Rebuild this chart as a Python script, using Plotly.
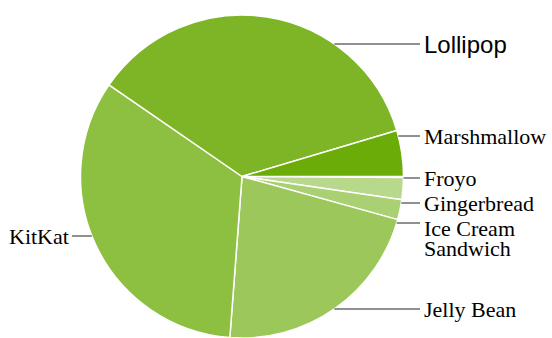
import math
import plotly.graph_objects as go

# ---- data ----
versions = ["Froyo", "Gingerbread", "Ice Cream Sandwich", "Jelly Bean", "KitKat", "Lollipop", "Marshmallow"]
shares = [0.1, 2.2, 2.0, 21.9, 33.4, 35.8, 4.6]
label_texts = ["Froyo", "Gingerbread", "Ice Cream<br>Sandwich", "Jelly Bean", "KitKat", "Lollipop", "Marshmallow"]

# ---- styles / layout ----
colors = ["#cfe6ad", "#b8d98b", "#a9d073", "#9cc75a", "#8dbf40", "#7db527", "#6bac08"]
W, H = 552, 338
CX, CY = 242, 176.5      # pie centre, px from top-left
R = 161.5                # pie radius in px
label_y = {"Froyo": 178, "Gingerbread": 203, "Ice Cream Sandwich": 223,
           "Jelly Bean": 309, "KitKat": 236, "Lollipop": 44, "Marshmallow": 136}
label_side = {"KitKat": "left"}
RIGHT_X = 420
LEFT_X = 72
SERIF = "Liberation Serif, Times New Roman, serif"
SANS = "Liberation Sans, Arial, sans-serif"

def px(x):
    return x / W

def py(y):
    return 1 - y / H

fig = go.Figure(go.Pie(
    labels=versions, values=shares, sort=False, direction="clockwise", rotation=90,
    marker=dict(colors=colors, line=dict(color="white", width=1.5)),
    textinfo="none", hoverinfo="label+percent", showlegend=False,
    domain=dict(x=[px(CX - R), px(CX + R)], y=[py(CY + R), py(CY - R)]),
))

shapes, annots = [], []
for name, txt in zip(versions, label_texts):
    y = label_y[name]
    dx = math.sqrt(max(R * R - (y - CY) ** 2, 0))
    if label_side.get(name) == "left":
        x0, x1 = CX - dx, LEFT_X
        tx, anchor = LEFT_X - 1, "right"
    else:
        x0, x1 = CX + dx, RIGHT_X
        tx, anchor = RIGHT_X + 2, "left"
    shapes.append(dict(type="line", xref="paper", yref="paper",
                       x0=px(x0), x1=px(x1), y0=py(y), y1=py(y),
                       line=dict(color="#222222", width=1)))
    is_lolli = name == "Lollipop"
    if "<br>" in txt:
        parts = txt.split("<br>")
        for i, part in enumerate(parts):
            annots.append(dict(text=part, xref="paper", yref="paper",
                               x=px(tx), y=py(y + 5 + i * 20), xanchor=anchor, yanchor="middle",
                               showarrow=False, font=dict(family=SERIF, size=22, color="#000000")))
    else:
        annots.append(dict(text=txt, xref="paper", yref="paper",
                           x=px(tx), y=py(y), xanchor=anchor, yanchor="middle",
                           showarrow=False,
                           font=dict(family=SANS if is_lolli else SERIF,
                                     size=24 if is_lolli else 22, color="#000000")))

fig.update_layout(width=W, height=H, margin=dict(l=0, r=0, t=0, b=0),
                  paper_bgcolor="white", plot_bgcolor="white",
                  shapes=shapes, annotations=annots)
fig.write_html("out.html")
